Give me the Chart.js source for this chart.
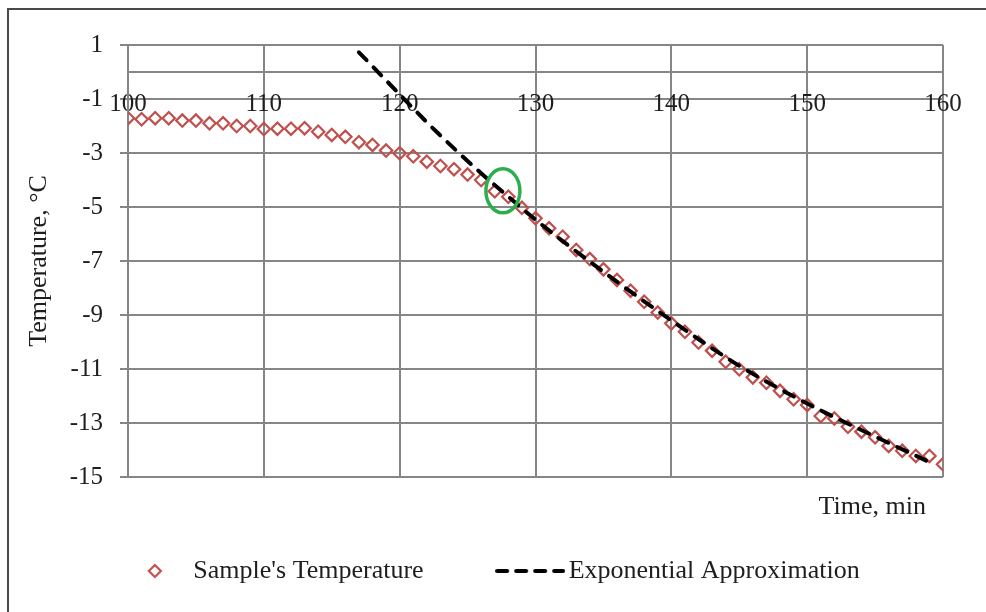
<!DOCTYPE html>
<html>
<head>
<meta charset="utf-8">
<title>Sample temperature</title>
<script src="https://cdn.jsdelivr.net/npm/chart.js@4/dist/chart.umd.min.js"></script>
<style>
  html, body { margin: 0; background: #fff; overflow: hidden; }
  #wrap { position: relative; width: 986px; height: 612px; overflow: hidden; }
  #frame {
    position: absolute; left: 7px; top: 8px; width: 1000px; height: 700px;
    border-left: 2px solid #4a4a4a; border-top: 2px solid #4a4a4a;
    pointer-events: none;
  }
</style>
</head>
<body>
<div id="wrap">
  <canvas id="chart"></canvas>
  <div id="frame"></div>
</div>
<script>
// measured temperature, one reading per minute
const minutes = [
  100, 101, 102, 103, 104, 105, 106, 107, 108, 109,
  110, 111, 112, 113, 114, 115, 116, 117, 118, 119,
  120, 121, 122, 123, 124, 125, 126, 127, 128, 129,
  130, 131, 132, 133, 134, 135, 136, 137, 138, 139,
  140, 141, 142, 143, 144, 145, 146, 147, 148, 149,
  150, 151, 152, 153, 154, 155, 156, 157, 158, 159, 160
];
const sampleTemps = [
  -1.71, -1.75, -1.71, -1.71, -1.80, -1.80, -1.90, -1.90, -2.00, -2.00,
  -2.11, -2.10, -2.10, -2.08, -2.21, -2.33, -2.40, -2.60, -2.70, -2.91,
  -3.01, -3.12, -3.32, -3.48, -3.60, -3.80, -4.00, -4.42, -4.62, -5.03,
  -5.42, -5.79, -6.10, -6.59, -6.93, -7.31, -7.70, -8.10, -8.51, -8.91,
  -9.31, -9.62, -10.02, -10.32, -10.73, -11.01, -11.31, -11.51, -11.81, -12.12,
  -12.33, -12.74, -12.83, -13.14, -13.32, -13.53, -13.85, -14.03, -14.22, -14.22, -14.53
];

// exponential fit
const approxMinutes = [117, 118, 120, 122, 124, 126, 128, 130, 135, 140, 145, 150, 155, 159];
const approxTemps = [0.73, 0.21, -0.83, -1.86, -2.83, -3.75, -4.62, -5.47, -7.40, -9.20, -10.88, -12.28, -13.50, -14.45];

// circled point where the fit starts to hold
const highlight = { x: 127.6, y: -4.4 };

const xMin = 100, xMax = 160, xStep = 10;
const yMin = -15, yMax = 1, yStep = 2;

const RED = "#C0504D";
const GRID = "#868686";
const TEXT = "#1e1e1e";
const FONT = "'Liberation Serif', 'Times New Roman', serif";

Chart.defaults.font.family = FONT;
Chart.defaults.font.size = 26;
Chart.defaults.color = TEXT;

function makeIcon(draw) {
  const c = document.createElement("canvas");
  c.width = 70;
  c.height = 20;
  draw(c.getContext("2d"));
  return c;
}

const legendIcons = [
  makeIcon((ctx) => {
    ctx.strokeStyle = RED;
    ctx.lineWidth = 2.2;
    ctx.beginPath();
    ctx.moveTo(35, 4);
    ctx.lineTo(41, 10);
    ctx.lineTo(35, 16);
    ctx.lineTo(29, 10);
    ctx.closePath();
    ctx.stroke();
  }),
  makeIcon((ctx) => {
    ctx.strokeStyle = "#000";
    ctx.lineWidth = 4;
    ctx.lineCap = "round";
    ctx.setLineDash([10, 9]);
    ctx.beginPath();
    ctx.moveTo(2, 10);
    ctx.lineTo(68, 10);
    ctx.stroke();
  }),
];

const extras = {
  id: "extras",
  afterDatasetsDraw(chart) {
    const { ctx, chartArea, scales } = chart;
    ctx.save();
    ctx.strokeStyle = "#2BAE4C";
    ctx.lineWidth = 3.5;
    ctx.beginPath();
    ctx.ellipse(
      scales.x.getPixelForValue(highlight.x),
      scales.y.getPixelForValue(highlight.y),
      17, 22, 0, 0, Math.PI * 2
    );
    ctx.stroke();

    ctx.fillStyle = TEXT;
    ctx.font = "26px " + FONT;
    ctx.textAlign = "right";
    ctx.textBaseline = "middle";
    ctx.fillText("Time, min", chartArea.right - 17, chartArea.bottom + 30);
    ctx.restore();
  },
};

new Chart(document.getElementById("chart"), {
  type: "scatter",
  data: {
    datasets: [
      {
        label: "Sample's Temperature",
        data: minutes.map((m, i) => ({ x: m, y: sampleTemps[i] })),
        pointStyle: "rectRot",
        pointRadius: 6.2,
        pointBorderWidth: 2.2,
        borderColor: RED,
        backgroundColor: "rgba(0,0,0,0)",
        showLine: false,
        order: 1,
      },
      {
        label: "Exponential Approximation",
        data: approxMinutes.map((m, i) => ({ x: m, y: approxTemps[i] })),
        showLine: true,
        pointRadius: 0,
        borderColor: "#000",
        borderWidth: 4,
        borderDash: [11, 10],
        borderCapStyle: "round",
        cubicInterpolationMode: "monotone",
        order: 0,
      },
    ],
  },
  options: {
    responsive: true,
    maintainAspectRatio: false,
    animation: false,
    layout: { padding: { left: 8, top: 45, right: 5, bottom: 18 } },
    plugins: {
      tooltip: { enabled: false },
      legend: {
        position: "bottom",
        labels: {
          usePointStyle: true,
          pointStyleWidth: 51,
          padding: 81,
          font: { size: 26 },
          color: TEXT,
          generateLabels(chart) {
            const items = Chart.defaults.plugins.legend.labels.generateLabels(chart);
            items.sort((a, b) => a.datasetIndex - b.datasetIndex);
            items.forEach((item) => {
              item.pointStyle = legendIcons[item.datasetIndex];
            });
            return items;
          },
        },
      },
    },
    scales: {
      x: {
        type: "linear",
        position: { y: 0 },
        min: xMin,
        max: xMax,
        ticks: { stepSize: xStep, padding: 17, font: { size: 25 }, maxRotation: 0 },
        grid: { color: GRID, lineWidth: 2, drawTicks: false },
        border: { color: GRID, width: 2 },
      },
      y: {
        type: "linear",
        position: "left",
        min: yMin,
        max: yMax,
        ticks: { stepSize: yStep, padding: 17, font: { size: 25 } },
        grid: { color: GRID, lineWidth: 2, tickLength: 8 },
        border: { color: GRID, width: 2 },
        title: {
          display: true,
          text: "Temperature, °C",
          font: { size: 26 },
          padding: { top: 16, bottom: 0 },
        },
        afterFit(scale) {
          scale.width = 120;
        },
      },
      yRight: {
        type: "linear",
        axis: "y",
        position: "right",
        ticks: { display: false },
        grid: { display: false },
        border: { display: false },
        afterFit(scale) {
          scale.width = 38;
        },
      },
    },
  },
  plugins: [extras],
});
</script>
</body>
</html>
